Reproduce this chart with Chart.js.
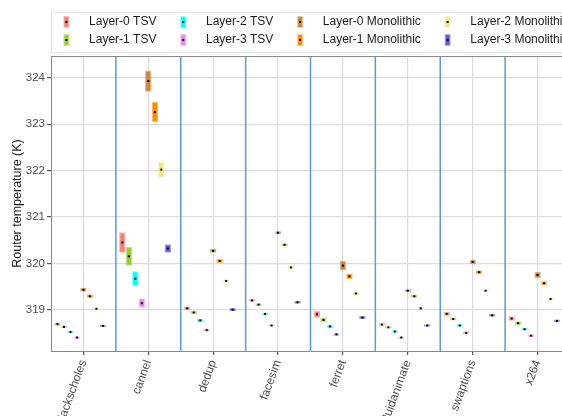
<!DOCTYPE html>
<html lang="en">
<head>
    <meta charset="UTF-8">
    <title>Router temperature</title>
    <script src="https://cdn.jsdelivr.net/npm/chart.js@4/dist/chart.umd.min.js"></script>
    <style>
        html, body { margin: 0; padding: 0; background: #fff; overflow: hidden; }
        #wrap { width: 614px; height: 416px; }
    </style>
</head>
<body>
    <div id="wrap"><canvas id="chart" width="614" height="416"></canvas></div>

    <script>
        var benchmarks = ["blackscholes", "cannel", "dedup", "facesim", "ferret", "fluidanimate", "swaptions", "x264"]
        var seriesNames = ["Layer-0 TSV", "Layer-1 TSV", "Layer-2 TSV", "Layer-3 TSV",
                           "Layer-0 Monolithic", "Layer-1 Monolithic", "Layer-2 Monolithic", "Layer-3 Monolithic"]
        var seriesColors = ["250,128,114", "154,205,50", "0,255,255", "238,130,238",
                            "205,133,63", "255,140,0", "240,230,140", "106,90,205"]
        // legend is filled row by row, this gives the two-row column layout
        var legendOrder = [0, 2, 4, 6, 1, 3, 5, 7]

        // medians (K)
        var l0TsvMed  = [318.69, 320.45, 319.03, 319.20, 318.90, 318.68, 318.91, 318.81]
        var l1TsvMed  = [318.63, 320.15, 318.94, 319.11, 318.78, 318.62, 318.80, 318.71]
        var l2TsvMed  = [318.52, 319.67, 318.77, 318.91, 318.64, 318.53, 318.66, 318.58]
        var l3TsvMed  = [318.40, 319.14, 318.56, 318.66, 318.47, 318.40, 318.50, 318.44]
        var l0MonoMed = [319.43, 323.93, 320.27, 320.66, 319.95, 319.41, 320.03, 319.75]
        var l1MonoMed = [319.29, 323.26, 320.05, 320.40, 319.72, 319.29, 319.81, 319.57]
        var l2MonoMed = [319.02, 322.02, 319.62, 319.91, 319.35, 319.03, 319.41, 319.23]
        var l3MonoMed = [318.65, 320.32, 319.00, 319.16, 318.83, 318.66, 318.88, 318.76]

        // half height of each box (K)
        var l0TsvSpread  = [0.035, 0.22, 0.040, 0.030, 0.075, 0.025, 0.040, 0.050]
        var l1TsvSpread  = [0.025, 0.20, 0.035, 0.030, 0.050, 0.025, 0.030, 0.040]
        var l2TsvSpread  = [0.025, 0.16, 0.035, 0.025, 0.035, 0.025, 0.025, 0.030]
        var l3TsvSpread  = [0.025, 0.10, 0.030, 0.020, 0.035, 0.025, 0.030, 0.030]
        var l0MonoSpread = [0.045, 0.23, 0.040, 0.030, 0.100, 0.030, 0.050, 0.065]
        var l1MonoSpread = [0.040, 0.22, 0.045, 0.030, 0.060, 0.030, 0.040, 0.045]
        var l2MonoSpread = [0.030, 0.17, 0.035, 0.030, 0.040, 0.025, 0.030, 0.030]
        var l3MonoSpread = [0.025, 0.09, 0.035, 0.030, 0.035, 0.025, 0.030, 0.030]

        var yMin = 318.11
        var yMax = 324.47
    </script>

    <script>
        var FONT = "'Liberation Sans', Arial, sans-serif"
        var medians = [l0TsvMed, l1TsvMed, l2TsvMed, l3TsvMed, l0MonoMed, l1MonoMed, l2MonoMed, l3MonoMed]
        var spreads = [l0TsvSpread, l1TsvSpread, l2TsvSpread, l3TsvSpread, l0MonoSpread, l1MonoSpread, l2MonoSpread, l3MonoSpread]

        // little key glyphs for the legend (box with a dot)
        var keyImages = seriesColors.map(function(c) {
            var k = document.createElement('canvas')
            k.width = 14; k.height = 12
            var g = k.getContext('2d')
            g.fillStyle = 'rgba(' + c + ',0.45)'
            g.fillRect(6, 0, 6, 12)
            g.fillStyle = 'rgb(' + c + ')'
            g.fillRect(7, 1, 4, 10)
            g.fillStyle = '#000'
            g.fillRect(8, 5, 2, 2)
            return k
        })

        var datasets = seriesNames.map(function(name, i) {
            return {
                label: name,
                data: medians[i].map(function(m, j) { return [m - spreads[i][j], m + spreads[i][j]] }),
                medians: medians[i],
                backgroundColor: 'rgb(' + seriesColors[i] + ')',
                borderColor: 'rgba(' + seriesColors[i] + ',0.6)',
                borderWidth: 1,
                borderSkipped: false
            }
        })
        // empty slot so the dodge matches the original (last position unused)
        datasets.push({ label: '', data: benchmarks.map(function() { return null }), backgroundColor: 'rgba(0,0,0,0)' })

        var boxPlugin = {
            id: 'boxExtras',
            beforeDatasetsDraw: function(chart) {
                var ctx = chart.ctx, x = chart.scales.x, a = chart.chartArea
                ctx.save()
                ctx.strokeStyle = '#5a9bd3'
                ctx.lineWidth = 1.5
                for (var i = 0; i < benchmarks.length - 1; i++) {
                    var px = x.getPixelForValue(i + 0.5)
                    ctx.beginPath(); ctx.moveTo(px, a.top); ctx.lineTo(px, a.bottom); ctx.stroke()
                }
                ctx.strokeStyle = '#8a8a8a'
                ctx.lineWidth = 1
                ctx.beginPath(); ctx.moveTo(a.left, a.top + 0.5); ctx.lineTo(a.right, a.top + 0.5); ctx.stroke()
                ctx.restore()
            },
            afterDatasetsDraw: function(chart) {
                var ctx = chart.ctx, y = chart.scales.y
                ctx.save()
                ctx.fillStyle = '#000'
                chart.data.datasets.forEach(function(ds, i) {
                    if (!ds.medians) return
                    chart.getDatasetMeta(i).data.forEach(function(bar, j) {
                        var py = y.getPixelForValue(ds.medians[j])
                        ctx.fillRect(bar.x - 1, py - 1, 2, 2)
                    })
                })
                ctx.restore()
            },
            afterDraw: function(chart) {
                var lg = chart.legend, hb = lg.legendHitBoxes[0]
                var ctx = chart.ctx
                ctx.save()
                ctx.strokeStyle = '#e2e2e2'
                ctx.lineWidth = 1
                ctx.strokeRect(Math.round(hb.left + 5) + 0.5, lg.top + 2.5, 600, 40)
                ctx.restore()
            }
        }

        var ctx = document.getElementById('chart').getContext('2d')
        var myChart = new Chart(ctx, {
            type: 'bar',
            data: { labels: benchmarks, datasets: datasets },
            plugins: [boxPlugin],
            options: {
                responsive: false,
                devicePixelRatio: 1,
                animation: false,
                layout: { padding: { top: 10, left: 0, right: 0, bottom: 0 } },
                datasets: { bar: { barPercentage: 1.0, categoryPercentage: 0.9 } },
                plugins: {
                    tooltip: { enabled: false },
                    legend: {
                        position: 'top',
                        labels: {
                            usePointStyle: true,
                            pointStyleWidth: 37.5,
                            padding: 6,
                            color: '#1a1a1a',
                            font: { size: 12, family: FONT },
                            generateLabels: function() {
                                return legendOrder.map(function(i) {
                                    return { text: seriesNames[i], pointStyle: keyImages[i], datasetIndex: i,
                                             hidden: false, lineWidth: 0, fillStyle: 'rgb(' + seriesColors[i] + ')',
                                             strokeStyle: 'rgba(0,0,0,0)', fontColor: '#1a1a1a' }
                                })
                            }
                        }
                    }
                },
                scales: {
                    x: {
                        offset: true,
                        grid: { offset: false, color: '#dcdcdc', lineWidth: 1.2, tickColor: '#555', tickLength: 4 },
                        border: { color: '#888' },
                        ticks: { autoSkip: false, minRotation: 70, maxRotation: 70, padding: 2,
                                 color: '#4d4d4d', font: { size: 12, family: FONT, lineHeight: 1.7 } },
                        afterFit: function(s) { s.height = 65 }
                    },
                    y: {
                        min: yMin, max: yMax,
                        grid: { color: '#dcdcdc', lineWidth: 1.2, tickColor: '#555', tickLength: 4 },
                        border: { color: '#888' },
                        ticks: { stepSize: 1, includeBounds: false, padding: 2,
                                 color: '#4d4d4d', font: { size: 11.5, family: FONT } },
                        title: { display: true, text: 'Router temperature (K)', color: '#1a1a1a',
                                 font: { size: 12.5, family: FONT }, padding: { top: 10, bottom: 0 } },
                        afterFit: function(s) { s.width = 51 }
                    },
                    // blank right axis: keeps the plot edge at ~570 while the legend spans the full canvas
                    spacer: {
                        type: 'linear', position: 'right',
                        grid: { display: false }, border: { display: false }, ticks: { display: false },
                        afterFit: function(s) { s.width = 44 }
                    }
                }
            }
        })
    </script>
</body>
</html>
